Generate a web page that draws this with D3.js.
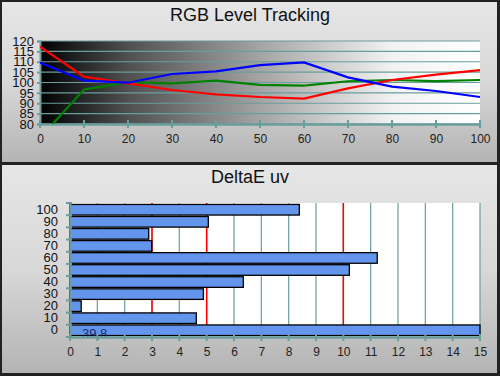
<!DOCTYPE html>
<html>
<head>
<meta charset="utf-8">
<script src="https://cdn.jsdelivr.net/npm/d3@7"></script>
<style>
  body { margin: 0; background: #fff; }
  svg text { font-family: "Liberation Sans", Arial, sans-serif; }
</style>
</head>
<body>
<div id="container"></div>
<script>
// niveaux de stimulus (%)
const levels = [0, 10, 20, 30, 40, 50, 60, 70, 80, 90, 100];
// suivi RGB (%)
const redValues = [117.3, 102.8, 99.6, 96.4, 94.3, 93.0, 92.2, 97.2, 101.2, 103.8, 106.0];
const greenValues = [73.3, 96.6, 100.2, 99.6, 100.9, 98.9, 98.5, 100.6, 101.2, 100.7, 101.2];
const blueValues = [109.6, 100.9, 99.9, 104.1, 105.4, 108.4, 109.7, 102.5, 98.0, 95.9, 93.0];
// DeltaE uv par niveau
const deltaE = [39.8, 4.62, 0.41, 4.88, 6.34, 10.22, 11.24, 2.99, 2.88, 5.06, 8.39];
const yTicksRgb = [80, 85, 90, 95, 100, 105, 110, 115, 120];
const xTicksDe = d3.range(0, 16);
const refLines = [3, 5, 10];

const W = 500, H = 376;
const teal = "#6a9e9c";

const svg = d3.select("#container").append("svg")
  .attr("width", W).attr("height", H);

const defs = svg.append("defs");
const panelGrad = defs.append("linearGradient").attr("id", "panel")
  .attr("x1", 0).attr("y1", 0).attr("x2", 0).attr("y2", 1);
panelGrad.append("stop").attr("offset", 0).attr("stop-color", "#e6e6e6");
panelGrad.append("stop").attr("offset", 0.5).attr("stop-color", "#d8d8d8");
panelGrad.append("stop").attr("offset", 1).attr("stop-color", "#b4b4b4");

const grayGrad = defs.append("linearGradient").attr("id", "gray")
  .attr("x1", 0).attr("y1", 0).attr("x2", 1).attr("y2", 0);
[[0, "#000"], [0.2, "#505050"], [0.5, "#a4a4a4"], [0.8, "#f2f2f2"], [1, "#fff"]]
  .forEach(s => grayGrad.append("stop").attr("offset", s[0]).attr("stop-color", s[1]));

defs.append("clipPath").attr("id", "clipTop")
  .append("rect").attr("x", 40).attr("y", 41).attr("width", 440).attr("height", 83);

// fond
svg.append("rect").attr("width", W).attr("height", H).attr("fill", "#222");
svg.append("rect").attr("x", 2).attr("y", 2).attr("width", 495).attr("height", 160).attr("fill", "url(#panel)");
svg.append("rect").attr("x", 2).attr("y", 165).attr("width", 495).attr("height", 208).attr("fill", "url(#panel)");

/* ---------- graphe du haut : RGB Level Tracking ---------- */
const topG = svg.append("g");
const x1 = d3.scaleLinear().domain([0, 100]).range([40, 480]);
const y1 = d3.scaleLinear().domain([80, 120]).range([124, 41]);

topG.append("text").attr("x", 250).attr("y", 21).attr("text-anchor", "middle")
  .attr("font-size", 18).attr("fill", "#111").text("RGB Level Tracking");

topG.append("rect").attr("x", 40).attr("y", 41).attr("width", 440).attr("height", 83)
  .attr("fill", "url(#gray)");

topG.append("g").selectAll("line").data(yTicksRgb).join("line")
  .attr("x1", 40).attr("x2", 480)
  .attr("y1", d => y1(d)).attr("y2", d => y1(d))
  .attr("stroke", teal).attr("stroke-width", 1.2);

// axe y
topG.append("g").attr("transform", "translate(40,0)")
  .call(d3.axisLeft(y1).tickValues(yTicksRgb).tickSize(3))
  .call(g => g.select(".domain").attr("stroke", teal).attr("stroke-width", 2))
  .call(g => g.selectAll(".tick line").attr("stroke", teal).attr("stroke-width", 2))
  .call(g => g.selectAll(".tick text").attr("x", -6).attr("font-size", 13)
    .attr("font-family", "Liberation Sans, Arial, sans-serif").attr("fill", "#111"));

// axe x
topG.append("g").attr("transform", "translate(0,124)")
  .call(d3.axisBottom(x1).tickValues(levels).tickSize(0).tickPadding(10))
  .call(g => g.select(".domain").attr("stroke", teal).attr("stroke-width", 2.5))
  .call(g => g.selectAll(".tick line").remove())
  .call(g => g.selectAll(".tick text").attr("font-size", 12)
    .attr("font-family", "Liberation Sans, Arial, sans-serif").attr("fill", "#222"));
topG.append("g").selectAll("line").data(levels).join("line")
  .attr("x1", d => x1(d)).attr("x2", d => x1(d))
  .attr("y1", 120).attr("y2", 128)
  .attr("stroke", teal).attr("stroke-width", 2);

const line = d3.line().x((d, i) => x1(levels[i])).y(d => y1(d));
const lines = topG.append("g").attr("clip-path", "url(#clipTop)");
[[greenValues, "#008000"], [redValues, "#ff0000"], [blueValues, "#0000ff"]].forEach(s => {
  lines.append("path").datum(s[0]).attr("d", line)
    .attr("fill", "none").attr("stroke", s[1]).attr("stroke-width", 2.2);
});

/* ---------- graphe du bas : DeltaE uv ---------- */
const bot = svg.append("g");
const x2 = d3.scaleLinear().domain([0, 15]).range([70, 480]);
const y2 = d3.scaleBand().domain(levels.slice().reverse()).range([203, 337]).padding(0.12);

bot.append("text").attr("x", 250).attr("y", 183).attr("text-anchor", "middle")
  .attr("font-size", 18).attr("fill", "#111").text("DeltaE uv");

bot.append("rect").attr("x", 70).attr("y", 203).attr("width", 410).attr("height", 134)
  .attr("fill", "#fff");

bot.append("g").selectAll("line").data(xTicksDe.slice(1)).join("line")
  .attr("x1", d => x2(d)).attr("x2", d => x2(d))
  .attr("y1", 203).attr("y2", 337)
  .attr("stroke", teal).attr("stroke-width", 1.2);

bot.append("g").selectAll("line").data(refLines).join("line")
  .attr("x1", d => x2(d)).attr("x2", d => x2(d))
  .attr("y1", 203).attr("y2", 337)
  .attr("stroke", "#ff0000").attr("stroke-width", 1.5);

bot.append("g").selectAll("rect").data(levels).join("rect")
  .attr("x", x2(0))
  .attr("y", d => y2(d))
  .attr("width", (d, i) => x2(Math.min(deltaE[i], 15)) - x2(0))
  .attr("height", y2.bandwidth())
  .attr("fill", "#6495ed").attr("stroke", "#000").attr("stroke-width", 1.3);

bot.append("text").attr("x", 82).attr("y", 338).attr("font-size", 13)
  .attr("fill", "#1c2f6e").text(String(deltaE[0]).replace(".", ","));

// axe y (bandes)
bot.append("g").attr("transform", "translate(70,0)")
  .call(d3.axisLeft(y2).tickSize(0).tickPadding(12))
  .call(g => g.select(".domain").attr("stroke", teal).attr("stroke-width", 2))
  .call(g => g.selectAll(".tick text").attr("font-size", 13)
    .attr("font-family", "Liberation Sans, Arial, sans-serif").attr("fill", "#111"));
const bounds = d3.range(0, 12).map(i => 203 + i * 134 / 11);
bot.append("g").selectAll("line").data(bounds).join("line")
  .attr("x1", 66).attr("x2", 72).attr("y1", d => d).attr("y2", d => d)
  .attr("stroke", teal).attr("stroke-width", 2);

// axe x
bot.append("g").attr("transform", "translate(0,337)")
  .call(d3.axisBottom(x2).tickValues(xTicksDe).tickSize(0).tickPadding(10))
  .call(g => g.select(".domain").attr("stroke", teal).attr("stroke-width", 2.5))
  .call(g => g.selectAll(".tick text").attr("font-size", 12)
    .attr("font-family", "Liberation Sans, Arial, sans-serif").attr("fill", "#222"));
bot.append("g").selectAll("line").data(xTicksDe).join("line")
  .attr("x1", d => x2(d)).attr("x2", d => x2(d))
  .attr("y1", 334).attr("y2", 341)
  .attr("stroke", teal).attr("stroke-width", 2);
</script>
</body>
</html>
